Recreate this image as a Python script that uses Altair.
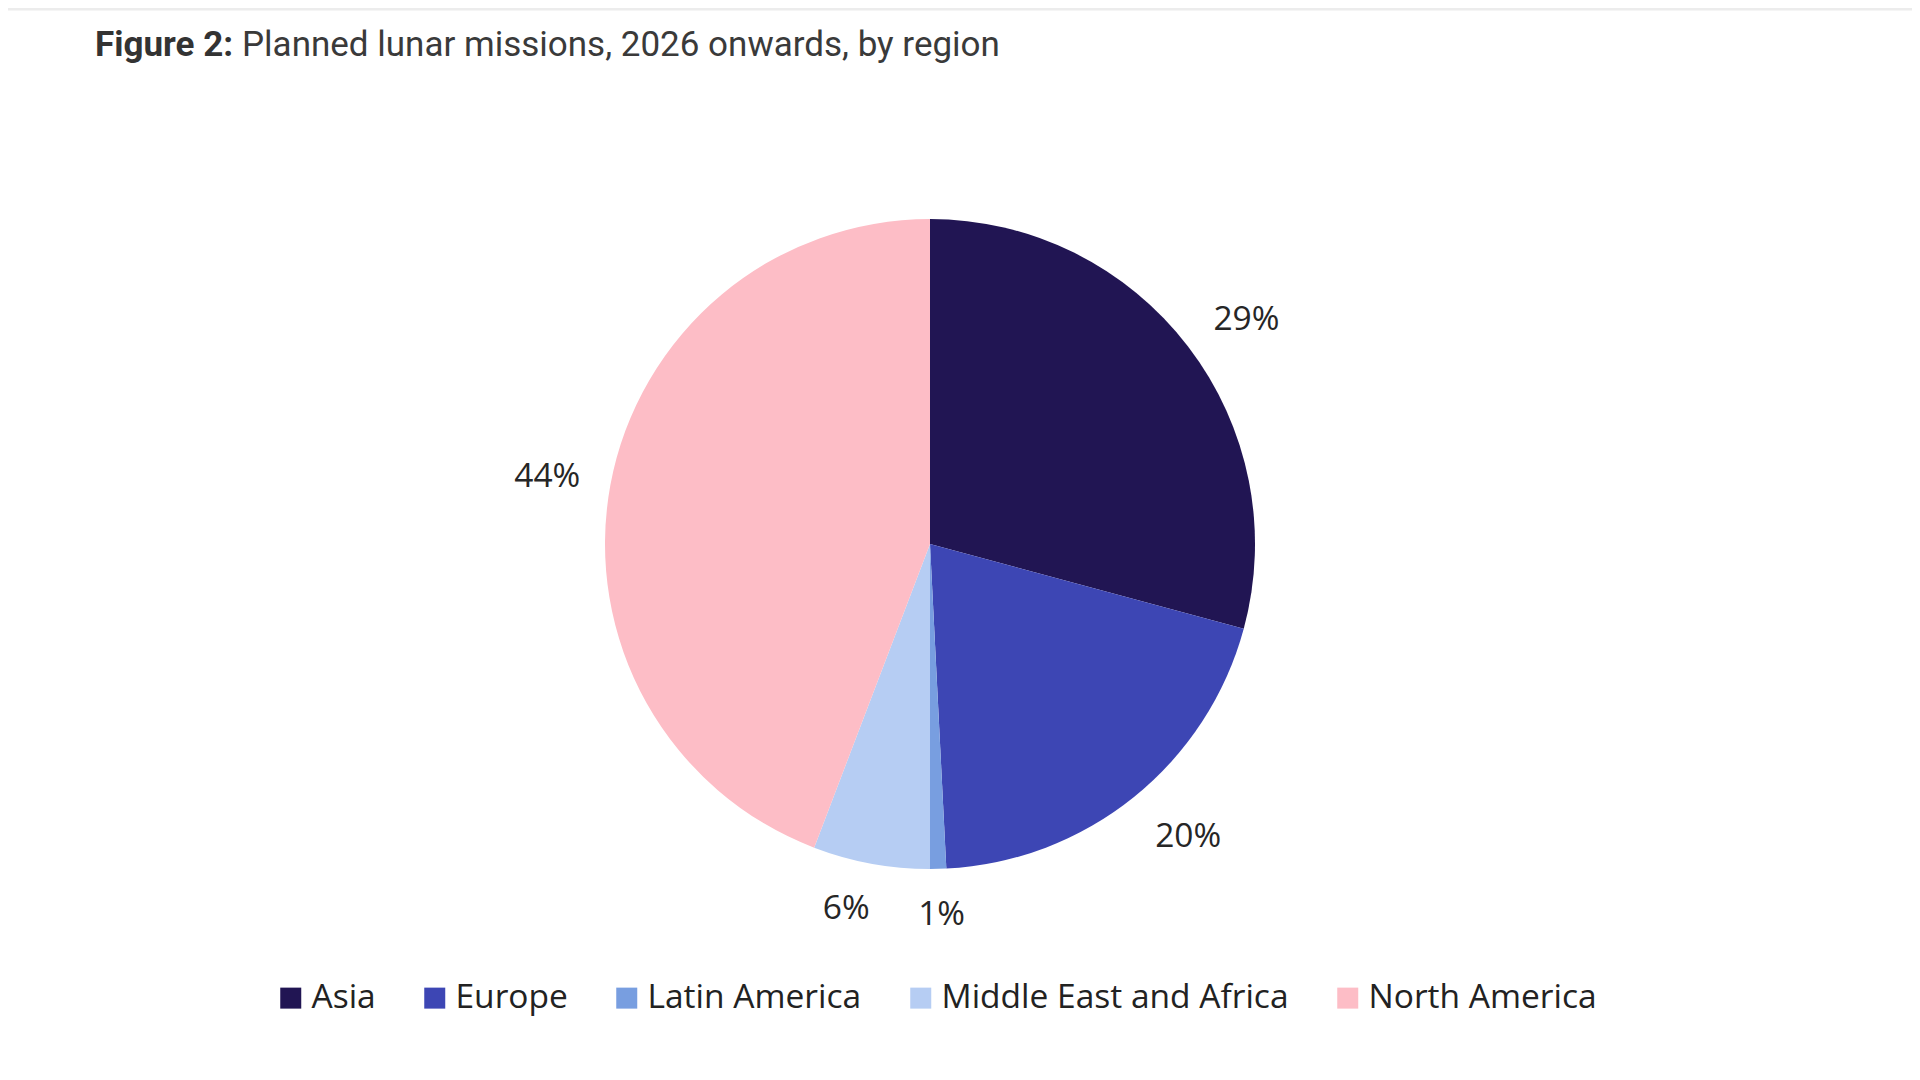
import altair as alt
import pandas as pd

regions = ["Asia", "Europe", "Latin America", "Middle East and Africa", "North America"]
shares = [29.2, 20.0, 0.8, 5.8, 44.2]
labels = ["29%", "20%", "1%", "6%", "44%"]
colors = ["#211553", "#3d46b4", "#789ee0", "#b6cdf3", "#fdbdc6"]

title_bold = "Figure 2:"
title_rest = "Planned lunar missions, 2026 onwards, by region"

df = pd.DataFrame({"region": regions, "share": shares, "label": labels,
                   "order": list(range(len(regions)))})

CX, CY, R = 922, 536, 325
TWO_PI = 6.283185307179586

base = alt.Chart(df)

arcs = base.mark_arc(outerRadius=R, strokeWidth=0).encode(
    theta=alt.Theta("share:Q", stack=True),
    order=alt.Order("order:Q"),
    color=alt.Color(
        "region:N",
        sort=regions,
        scale=alt.Scale(domain=regions, range=colors),
        legend=alt.Legend(
            orient="none", direction="horizontal", legendX=266, legendY=973,
            title=None, symbolType="square", symbolSize=441, symbolStrokeWidth=0,
            symbolOpacity=1, labelFont="Open Sans", labelFontSize=33.5,
            labelColor="#222222", labelOffset=4, columnPadding=42, padding=0,
            labelLimit=0,
        ),
    ),
    x=alt.value(CX),
    y=alt.value(CY),
)

# outside-end label placement (Excel-like): radial anchor plus box half-size offset
texts = base.transform_window(
    cum="sum(share)", sort=[alt.SortField("order")], frame=[None, 0]
).transform_joinaggregate(
    total="sum(share)"
).transform_calculate(
    mid="(datum.cum - datum.share/2) / datum.total * 2 * PI"
).transform_calculate(
    dx="350*sin(datum.mid) + (10.5*length(datum.label) + 7) * clamp(4*sin(datum.mid), -1, 1)",
    dy="-(350*cos(datum.mid) + 16 * clamp(3*cos(datum.mid), -1, 1)) + 5",
).transform_calculate(
    lr="sqrt(datum.dx*datum.dx + datum.dy*datum.dy)",
    la0="atan2(datum.dx, -datum.dy)",
).transform_calculate(
    la="datum.la0 < 0 ? datum.la0 + 2*PI : datum.la0"
).mark_text(
    font="Open Sans", fontSize=33.5, color="#262626", align="center", baseline="middle"
).encode(
    theta=alt.Theta("la:Q", stack=False,
                    scale=alt.Scale(domain=[0, TWO_PI], range=[0, TWO_PI])),
    radius=alt.Radius("lr:Q", scale=None),
    text="label:N",
    x=alt.value(CX),
    y=alt.value(CY),
)

topline = alt.Chart(pd.DataFrame({"a": [0]})).mark_rule(
    color="#ececec", strokeWidth=3
).encode(x=alt.value(0), x2=alt.value(1904), y=alt.value(1))

t1 = alt.Chart(pd.DataFrame({"t": [title_bold]})).mark_text(
    font="Roboto", fontSize=35, fontWeight="bold", color="#333333",
    align="left", baseline="alphabetic"
).encode(text="t:N", x=alt.value(87), y=alt.value(48))

t2 = alt.Chart(pd.DataFrame({"t": [title_rest]})).mark_text(
    font="Roboto", fontSize=35, fontWeight="normal", color="#3a3a3a",
    align="left", baseline="alphabetic"
).encode(text="t:N", x=alt.value(234), y=alt.value(48))

chart = alt.layer(topline, t1, t2, arcs, texts).resolve_scale(
    theta="independent", radius="independent"
).properties(
    width=1904, height=1064,
    autosize=alt.AutoSizeParams(type="none"),
    padding=0,
    background="white",
).configure_view(stroke=None)

chart.save("out.html", embed_options={"renderer": "svg", "actions": False})
